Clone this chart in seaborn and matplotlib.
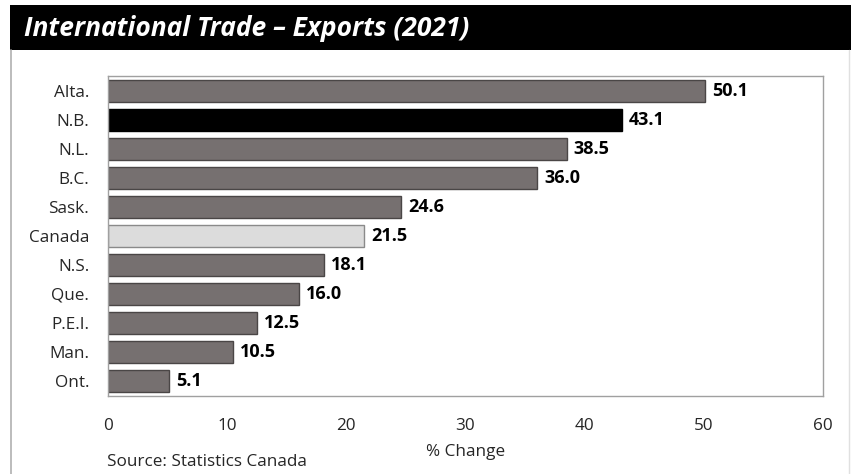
import matplotlib
matplotlib.use("Agg")
import matplotlib.pyplot as plt
from matplotlib.patches import Rectangle
from matplotlib.lines import Line2D
import seaborn as sns
import pandas as pd

provinces = ["Alta.", "N.B.", "N.L.", "B.C.", "Sask.", "Canada", "N.S.", "Que.", "P.E.I.", "Man.", "Ont."]
pct_change = [50.1, 43.1, 38.5, 36.0, 24.6, 21.5, 18.1, 16.0, 12.5, 10.5, 5.1]
x_ticks = [0, 10, 20, 30, 40, 50, 60]

GRAY = "#767070"
bar_colors = {p: GRAY for p in provinces}
bar_colors["N.B."] = "#000000"
bar_colors["Canada"] = "#dcdcdc"

df = pd.DataFrame({"province": provinces, "change": pct_change})

sns.set_theme(style="white")
plt.rcParams["font.family"] = ["Open Sans", "DejaVu Sans"]

W, H = 851, 474
fig = plt.figure(figsize=(W / 100, H / 100), dpi=100)

# title band and outer frame
fig.patches.append(Rectangle((10 / W, 1 - 50 / H), (W - 10) / W, 45 / H,
                             transform=fig.transFigure, facecolor="black", edgecolor="none"))
fig.lines.append(Line2D([11 / W, 11 / W], [0, 1 - 50 / H], transform=fig.transFigure,
                        color="#b0b0b0", lw=1.2))
fig.lines.append(Line2D([849 / W, 849 / W], [0, 1 - 50 / H], transform=fig.transFigure,
                        color="#e0e0e0", lw=1.0))
fig.text(24 / W, 1 - 29 / H, "International Trade \u2013 Exports (2021)", color="white",
         fontsize=19, fontweight="bold", fontstyle="italic", va="center", ha="left")

left, right, top, bottom = 108, 823, 76, 396
ax = fig.add_axes([left / W, 1 - bottom / H, (right - left) / W, (bottom - top) / H])

sns.barplot(data=df, y="province", x="change", hue="province", palette=bar_colors,
            order=provinces, hue_order=provinces, legend=False, width=0.76,
            saturation=1, ax=ax)

for patch, p in zip(ax.patches, provinces):
    if p == "Canada":
        patch.set_edgecolor("#8a8a8a")
    elif p == "N.B.":
        patch.set_edgecolor("#000000")
    else:
        patch.set_edgecolor("#4a4646")
    patch.set_linewidth(1.0)

for container in ax.containers:
    ax.bar_label(container, fmt="%.1f", padding=5, fontsize=13, fontweight="bold", color="black")

ax.set_xlim(0, 60)
ax.set_ylim(10.52, -0.52)
ax.set_xticks(x_ticks)
ax.set_xticklabels([str(t) for t in x_ticks], fontsize=12.3)
ax.tick_params(axis="x", length=0, pad=15.5)
ax.tick_params(axis="y", length=0, pad=13.5, labelsize=12.3)
ax.set_ylabel("")
ax.set_xlabel("% Change", fontsize=12.3, labelpad=7.5)
for s in ax.spines.values():
    s.set_visible(True)
    s.set_color("#a0a0a0")
    s.set_linewidth(1.0)

fig.text(107 / W, 1 - 462 / H, "Source: Statistics Canada", fontsize=12.3, va="center", ha="left")

fig.savefig("out.png", dpi=100, facecolor="white")
